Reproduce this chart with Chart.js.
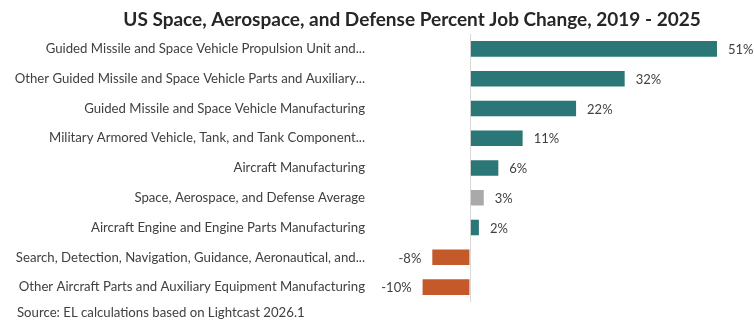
<!DOCTYPE html>
<html>
<head>
<meta charset="utf-8">
<title>US Space, Aerospace, and Defense Percent Job Change</title>
<script src="https://cdn.jsdelivr.net/npm/chart.js@4.4.1/dist/chart.umd.min.js"></script>
<style>
  html, body { margin: 0; padding: 0; background: #ffffff; }
  #wrap { width: 754px; height: 323px; position: relative; }
</style>
</head>
<body>
<div id="wrap"><canvas id="jobChart" width="754" height="323"></canvas></div>
<script>
// industries, top to bottom
const industries = [
  'Guided Missile and Space Vehicle Propulsion Unit and...',
  'Other Guided Missile and Space Vehicle Parts and Auxiliary...',
  'Guided Missile and Space Vehicle Manufacturing',
  'Military Armored Vehicle, Tank, and Tank Component...',
  'Aircraft Manufacturing',
  'Space, Aerospace, and Defense Average',
  'Aircraft Engine and Engine Parts Manufacturing',
  'Search, Detection, Navigation, Guidance, Aeronautical, and...',
  'Other Aircraft Parts and Auxiliary Equipment Manufacturing'
];

// percent job change 2019 - 2025
const jobChange = [51, 32, 22, 11, 6, 3, 2, -8, -10];

const averageLabel = 'Space, Aerospace, and Defense Average';

const chartTitle = 'US Space, Aerospace, and Defense Percent Job Change, 2019 - 2025';
const sourceNote = 'Source: EL calculations based on Lightcast 2026.1';

const FONT = 'Lato, "Open Sans", sans-serif';
const TEXT_COLOR = '#404040';

function barColor(i) {
  if (industries[i] === averageLabel) return '#a9a9a9';
  return jobChange[i] < 0 ? '#c45a2a' : '#2b7676';
}

// value labels next to each bar, plus title and source line
const annotations = {
  id: 'annotations',
  afterDatasetsDraw(chart) {
    const ctx = chart.ctx;
    const meta = chart.getDatasetMeta(0);
    ctx.save();
    ctx.font = '13px ' + FONT;
    ctx.fillStyle = TEXT_COLOR;
    ctx.textBaseline = 'middle';
    meta.data.forEach((bar, i) => {
      const v = jobChange[i];
      if (v >= 0) {
        ctx.textAlign = 'left';
        ctx.fillText(v + '%', bar.x + 10, bar.y + 1);
      } else {
        ctx.textAlign = 'right';
        ctx.fillText(v + '%', bar.x - 10, bar.y + 1);
      }
    });

    ctx.font = 'bold 19px ' + FONT;
    ctx.fillStyle = '#262626';
    ctx.textAlign = 'center';
    ctx.fillText(chartTitle, 412, 20);

    ctx.font = '13.2px ' + FONT;
    ctx.fillStyle = TEXT_COLOR;
    ctx.textAlign = 'left';
    ctx.fillText(sourceNote, 17, 313);
    ctx.restore();
  }
};

new Chart(document.getElementById('jobChart'), {
  type: 'bar',
  data: {
    labels: industries,
    datasets: [{
      data: jobChange,
      backgroundColor: jobChange.map((v, i) => barColor(i)),
      borderColor: 'rgba(255,255,255,0.25)',
      borderWidth: 1,
      barPercentage: 0.59,
      categoryPercentage: 1
    }]
  },
  options: {
    indexAxis: 'y',
    responsive: false,
    animation: false,
    layout: { padding: { top: 34, bottom: 21, left: 0, right: 2 } },
    plugins: {
      legend: { display: false },
      tooltip: { enabled: false },
      title: { display: false }
    },
    scales: {
      x: {
        min: -20,
        max: 58,
        ticks: { display: false, stepSize: 10 },
        border: { display: false },
        grid: {
          drawTicks: false,
          color: c => (c.tick && c.tick.value === 0 ? '#d9d9d9' : 'rgba(0,0,0,0)')
        },
        afterFit(scale) { scale.height = 0; }
      },
      y: {
        border: { display: false },
        grid: { display: false, drawTicks: false },
        ticks: {
          padding: 8,
          color: TEXT_COLOR,
          font: { family: FONT, size: 13.2 },
          autoSkip: false
        },
        afterFit(scale) { scale.width = 373; }
      }
    }
  },
  plugins: [annotations]
});
</script>
</body>
</html>
